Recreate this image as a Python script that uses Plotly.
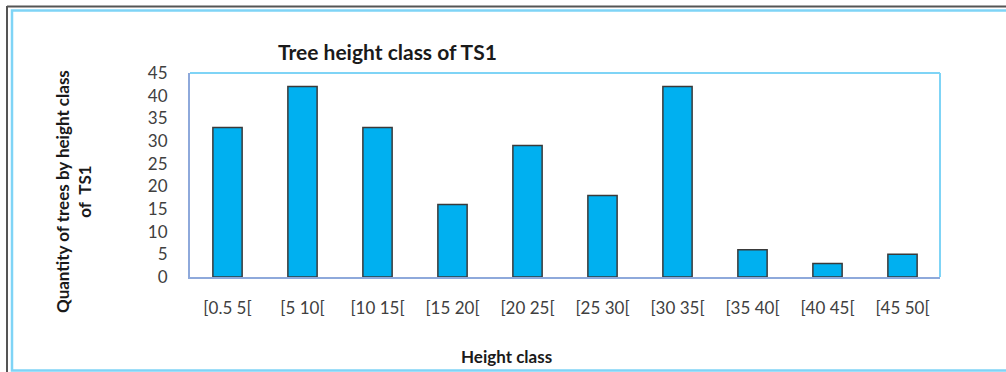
import plotly.graph_objects as go

categories = ["[0.5 5[", "[5 10[", "[10 15[", "[15 20[", "[20 25[",
              "[25 30[", "[30 35[", "[35 40[", "[40 45[", "[45 50["]
counts = [33, 42, 33, 16, 29, 18, 42, 6, 3, 5]
y_ticks = [0, 5, 10, 15, 20, 25, 30, 35, 40, 45]

W, H = 1006, 372
L, R, T, B = 190, 940, 73, 277
FONT = "Lato"

def px(x):
    return (x - L) / (R - L)

def py(y):
    return (B - y) / (B - T)

fig = go.Figure(go.Bar(
    x=categories, y=counts,
    marker=dict(color="#00B0F0", line=dict(color="#3a3a3a", width=1.5)),
    width=0.39,
))

shapes = [
    # outer gray frame
    dict(type="line", xref="paper", yref="paper", x0=px(7), x1=px(1010), y0=py(6.5), y1=py(6.5),
         line=dict(color="#555555", width=2)),
    dict(type="line", xref="paper", yref="paper", x0=px(7), x1=px(7), y0=py(6), y1=py(380),
         line=dict(color="#555555", width=2)),
    # inner light-blue frame
    dict(type="rect", xref="paper", yref="paper", x0=px(12), x1=px(1020), y0=py(10.5), y1=py(370.5),
         line=dict(color="#7FD4F6", width=2.5)),
    # plot area top/right border
    dict(type="line", xref="paper", yref="paper", x0=0, x1=1, y0=1, y1=1,
         line=dict(color="#7FD4F6", width=2)),
    dict(type="line", xref="paper", yref="paper", x0=1, x1=1, y0=0, y1=1,
         line=dict(color="#7FD4F6", width=2)),
]

annotations = [
    dict(text="<b>Tree height class of TS1</b>", xref="paper", yref="paper",
         x=px(387), y=py(52), showarrow=False, xanchor="center", yanchor="middle",
         font=dict(family=FONT, size=21, color="#1a1a1a")),
    dict(text="<b>Quantity of trees by height class<br>of  TS1</b>", xref="paper", yref="paper",
         x=px(73), y=py(192), showarrow=False, textangle=-90, xanchor="center", yanchor="middle",
         font=dict(family=FONT, size=17, color="#1a1a1a")),
    dict(text="<b>Height class</b>", xref="paper", yref="paper",
         x=px(506), y=py(356), showarrow=False, xanchor="center", yanchor="middle",
         font=dict(family=FONT, size=17, color="#1a1a1a")),
]

fig.update_layout(
    width=W, height=H,
    margin=dict(l=L, r=W - R, t=T, b=H - B),
    paper_bgcolor="white", plot_bgcolor="white",
    showlegend=False,
    shapes=shapes,
    annotations=annotations,
    font=dict(family=FONT, size=17, color="#404040"),
    xaxis=dict(showline=True, linecolor="#8EA9DB", linewidth=2, showgrid=False,
               ticks="", ticklabelstandoff=15,
               tickfont=dict(family=FONT, size=17, color="#404040")),
    yaxis=dict(range=[0, 45], tickvals=y_ticks, showline=True, linecolor="#8EA9DB", linewidth=2,
               showgrid=False, zeroline=False, ticks="", ticklabelstandoff=17,
               tickfont=dict(family=FONT, size=17, color="#404040")),
)

fig.write_html("out.html")
